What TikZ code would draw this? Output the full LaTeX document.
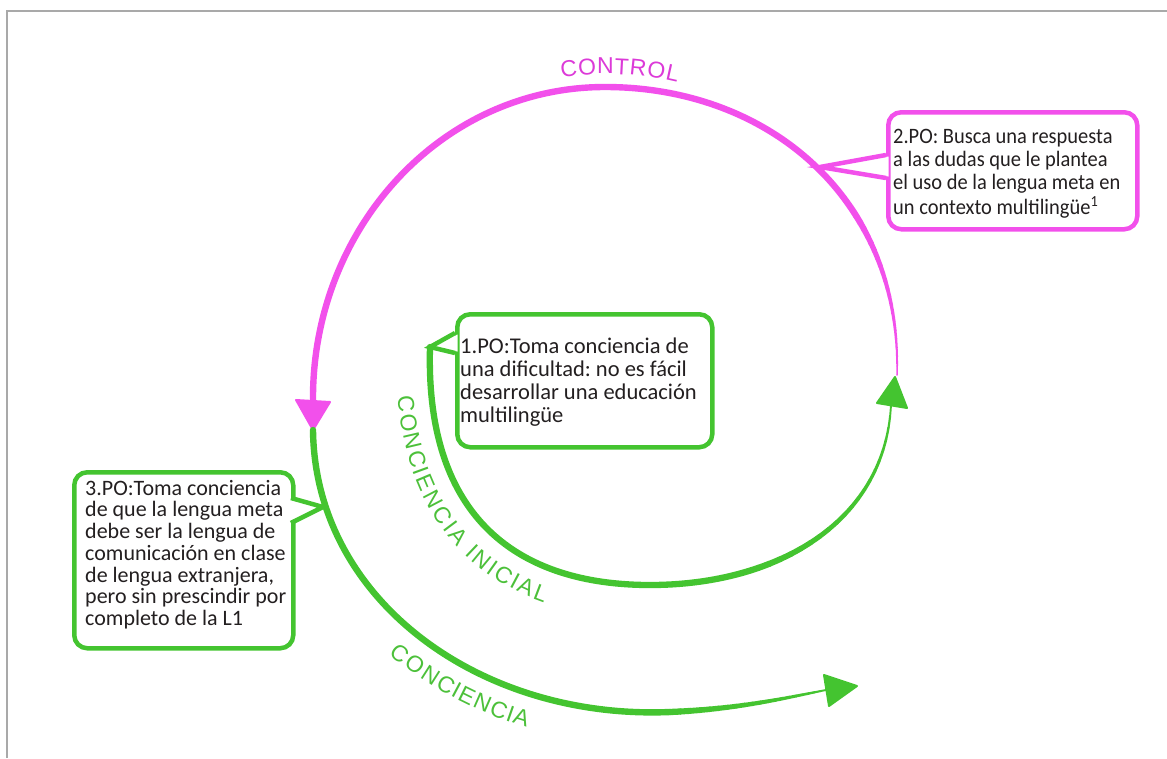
\documentclass[tikz,border=0pt]{standalone}
\usepackage{fontspec}
\setmainfont{Carlito}
\newfontfamily\labelfont{Liberation Sans}
\newfontfamily\narrowfont[FakeStretch=0.93]{Carlito}
\usetikzlibrary{decorations.text}
\frenchspacing

\definecolor{mag}{HTML}{F250EB}
\definecolor{magtext}{HTML}{DC3AD8}
\definecolor{grn}{HTML}{44C430}
\definecolor{grntext}{HTML}{4CC03A}
\definecolor{framegray}{HTML}{A9A9A9}
\definecolor{ink}{HTML}{231F20}

% point shorthands for the pgf-level curve pieces
\newcommand\xyp[2]{\pgfpointxy{#1}{#2}}
\newcommand\anc[1]{\pgfpointanchor{#1}{center}}

\begin{document}
\begin{tikzpicture}[x=1pt,y=-1pt,
  callout/.style={draw=#1, line width=4.5pt, rounded corners=13pt, fill=white,
    inner sep=0pt, anchor=north west},
  pointer/.style={draw=#1, line width=4.5pt, line join=miter},
  boxtext/.style={text=ink, inner sep=0pt, anchor=base west},
  head/.style={fill=#1, draw=#1, line width=2pt, line join=round},
  curvelabel/.style={decorate, decoration={text along path, text={#1}}}
]
\useasboundingbox (0,0) rectangle (1167,758);

% page frame
\draw[framegray, line width=2.5pt] (7,758) -- (7,11) -- (1167,11);

% ---- flow curves ----
\coordinate (m0) at (895,377);   % tip of the inner green arrow
\coordinate (ms) at (897,375);   % start of the magenta loop
\coordinate (me) at (313,400);   % base of the magenta arrow
\coordinate (m1) at (313,430);   % tip of the magenta arrow
\coordinate (p1) at (430,347);   % pointer of box 1
\coordinate (p2) at (820,167);   % pointer of box 2
\coordinate (p3) at (323,507);   % pointer of box 3
\coordinate (ie) at (891,404);   % base of the inner green arrow
\coordinate (oe) at (826,690);   % base of the outer green arrow
\coordinate (g1) at (857,686);   % tip of the outer green arrow

% control loop: thin where it leaves the green arrow, full width after
\begin{scope}[mag, line cap=round]
  \pgfsetlinewidth{6.4pt}
  \pgfpathcurvebetweentime{0.35}{1}{\anc{ms}}{\xyp{902}{200}}{\xyp{770}{87}}{\xyp{605}{87}}
  \pgfpathcurveto{\xyp{440}{87}}{\xyp{312}{230}}{\anc{me}}
  \pgfusepath{stroke}
  \foreach \i in {0,...,19}{
    \pgfmathsetmacro\ta{0.35*\i/20}
    \pgfmathsetmacro\tb{0.35*(\i+1)/20}
    \pgfmathsetmacro\lw{1.4+5.0*(\i+0.5)/20}
    \pgfsetlinewidth{\lw pt}
    \pgfpathcurvebetweentime{\ta}{\tb}{\anc{ms}}{\xyp{902}{200}}{\xyp{770}{87}}{\xyp{605}{87}}
    \pgfusepath{stroke}
  }
\end{scope}
\draw[head=mag] (296,400) -- (330,402) -- (m1) -- cycle;

% initial awareness: tapers into its arrow
\begin{scope}[grn, line cap=round]
  \pgfsetlinewidth{6.3pt}
  \pgfpathmoveto{\anc{p1}}
  \pgfpathcurveto{\xyp{425}{520}}{\xyp{520}{585}}{\xyp{650}{585}}
  \pgfpathcurvebetweentimecontinue{0}{0.3}{\xyp{650}{585}}{\xyp{780}{585}}{\xyp{886}{520}}{\anc{ie}}
  \pgfusepath{stroke}
  \foreach \i in {0,...,19}{
    \pgfmathsetmacro\ta{0.3+0.7*\i/20}
    \pgfmathsetmacro\tb{0.3+0.7*(\i+1)/20}
    \pgfmathsetmacro\lw{6.3-4.5*(\i+0.5)/20}
    \pgfsetlinewidth{\lw pt}
    \pgfpathcurvebetweentime{\ta}{\tb}{\xyp{650}{585}}{\xyp{780}{585}}{\xyp{886}{520}}{\anc{ie}}
    \pgfusepath{stroke}
  }
\end{scope}
\draw[head=grn] (877,403) -- (907,408) -- (m0) -- cycle;

% awareness: tapers into its arrow
\begin{scope}[grn, line cap=round]
  \pgfsetlinewidth{6.4pt}
  \pgfpathmoveto{\anc{m1}}
  \pgfpathcurveto{\xyp{315}{600}}{\xyp{480}{720}}{\xyp{670}{712}}
  \pgfusepath{stroke}
  \foreach \i in {0,...,19}{
    \pgfmathsetmacro\ta{\i/20}
    \pgfmathsetmacro\tb{(\i+1)/20}
    \pgfmathsetmacro\lw{6.4-4.6*(\i+0.5)/20}
    \pgfsetlinewidth{\lw pt}
    \pgfpathcurvebetweentime{\ta}{\tb}{\xyp{670}{712}}{\xyp{740}{709}}{\xyp{790}{697}}{\anc{oe}}
    \pgfusepath{stroke}
  }
\end{scope}
\draw[head=grn] (824,675) -- (829,706) -- (g1) -- cycle;

% ---- curved labels ----
\path[curvelabel={|\labelfont\fontsize{23}{23}\selectfont\color{magtext}|CONTROL},
    decoration={text align={left indent=19pt}, raise=13pt}]
  (544.1,93.4) .. controls (594.4,82.7) and (646.6,85.4) .. (695.5,101.3);

\path[curvelabel={|\labelfont\fontsize{23}{23}\selectfont\color{grntext}|CONCIENCIA INICIAL},
    decoration={text align={left indent=46pt}, raise=-34pt}]
  (p1) .. controls (425,520) and (520,585) .. (650,585);

\path[curvelabel={|\labelfont\fontsize{23}{23}\selectfont\color{grntext}|CONCIENCIA},
    decoration={text align={left indent=228pt}, raise=-33pt}]
  (m1) .. controls (315,600) and (480,720) .. (670,712);

% ---- callout boxes ----
% box 2
\node[callout=mag, minimum width=249pt, minimum height=117pt] (b2) at (886,110) {};
\fill[white] (888.5,156.5) -- (p2) -- (888.5,176.5) -- cycle;
\draw[pointer=mag] (886,155) -- (p2) -- (886,178);
\node[boxtext, font=\narrowfont\fontsize{22}{23.3}\selectfont] (t2) at (893,143)
  {\begin{tabular}[t]{@{}l@{}}2.PO: Busca una respuesta\\
   a las dudas que le plantea\\
   el uso de la lengua meta en\\
   un contexto multilingüe\textsuperscript{1}\end{tabular}};

% box 1
\node[callout=grn, minimum width=255pt, minimum height=133pt] (b1) at (455,312) {};
\fill[white] (457.5,334.5) -- (p1) -- (457.5,351.5) -- cycle;
\draw[pointer=grn] (455,333) -- (p1) -- (455,353);
\node[boxtext, font=\fontsize{22.5}{23.3}\selectfont] (t1) at (460,353)
  {\begin{tabular}[t]{@{}l@{}}1.PO:Toma conciencia de\\
   una dificultad: no es fácil\\
   desarrollar una educación\\
   multilingüe\end{tabular}};

% box 3
\node[callout=grn, minimum width=219pt, minimum height=176pt] (b3) at (72,470) {};
\fill[white] (288.5,499.5) -- (p3) -- (288.5,521.5) -- cycle;
\draw[pointer=grn] (291,498) -- (p3) -- (291,523);
\node[boxtext, font=\fontsize{22}{21.7}\selectfont] (t3) at (85,495)
  {\begin{tabular}[t]{@{}l@{}}3.PO:Toma conciencia\\
   de que la lengua meta\\
   debe ser la lengua de\\
   comunicación en clase\\
   de lengua extranjera,\\
   pero sin prescindir por\\
   completo de la L1\end{tabular}};
\end{tikzpicture}
\end{document}
